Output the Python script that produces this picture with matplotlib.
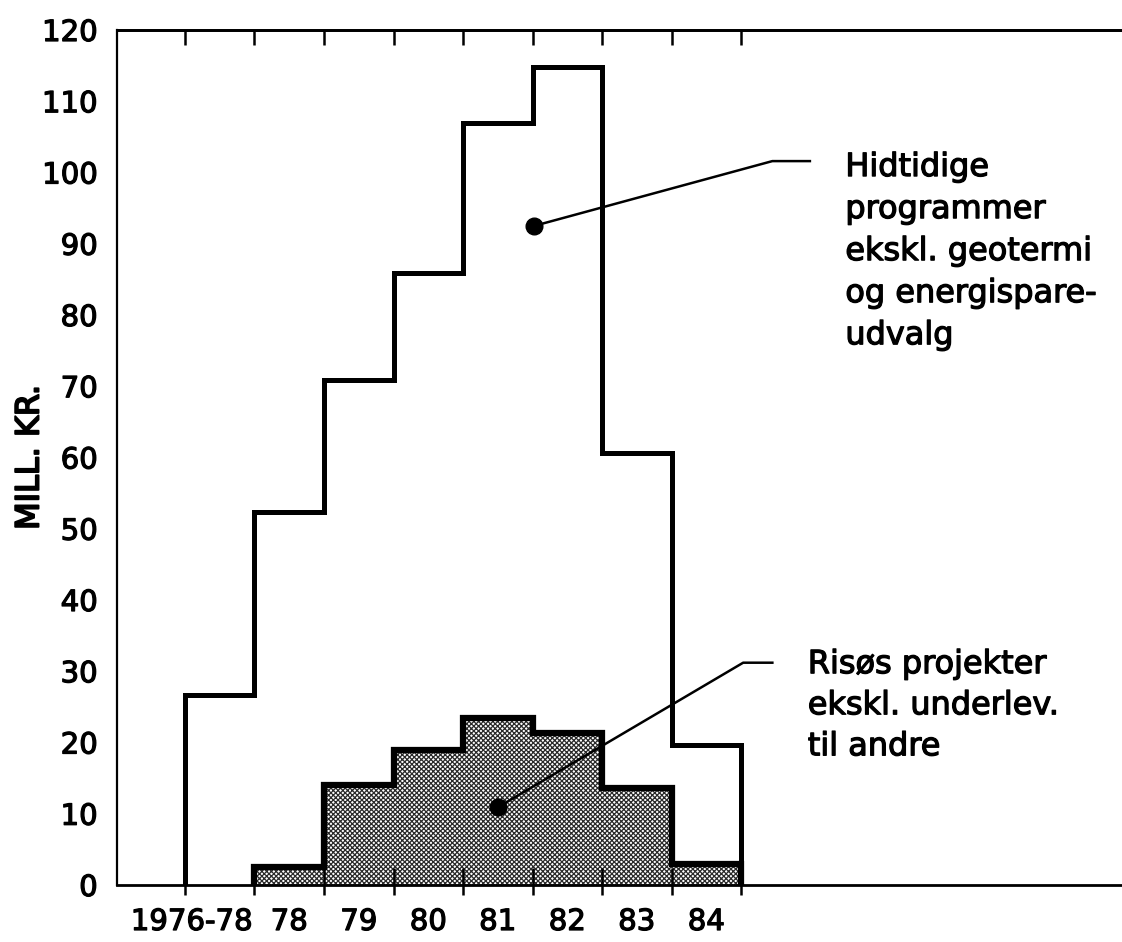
import matplotlib
matplotlib.use('Agg')
import matplotlib.pyplot as plt
import matplotlib.patheffects as pe
import matplotlib.transforms as mtrans
import numpy as np

# ---- data ----
periods = ['1976-78', '78', '79', '80', '81', '82', '83', '84']
hidtidige = [26.7, 52.4, 70.9, 85.9, 106.9, 114.8, 60.6, 19.6]
risoe = [0.0, 2.5, 14.0, 18.9, 23.4, 21.3, 13.6, 3.0]
yticks = list(range(0, 121, 10))
ylabel = 'MILL. KR.'
label_hid = 'Hidtidige\nprogrammer\nekskl. geotermi\nog energispare-\nudvalg'
label_ris = 'Risøs projekter\nekskl. underlev.\ntil andre'

plt.rcParams['font.family'] = ['DejaVu Sans']
plt.rcParams['hatch.linewidth'] = 0.9

W, H = 1122, 942
fig = plt.figure(figsize=(W / 100, H / 100), dpi=100)
ax = fig.add_axes([117 / W, 57 / H, 1 - 117 / W, 855 / H])

edges = np.arange(len(periods) + 1)
bold = [pe.withStroke(linewidth=0.9, foreground='black')]

# hatched Risø area
ax.stairs(risoe, edges, baseline=0, fill=True, facecolor='white',
          edgecolor='#2a2a2a', hatch='xxxxxxx', linewidth=0, zorder=1)
# outlines
ax.stairs(risoe[1:], edges[1:], baseline=0, color='black', linewidth=4.5, zorder=3)
ax.stairs(hidtidige, edges, baseline=0, color='black', linewidth=3.6, zorder=3)

ax.set_xlim(-0.978, 13.48)
ax.set_ylim(0, 120)

# spines
ax.spines['right'].set_visible(False)
ax.spines['left'].set_linewidth(1.6)
ax.spines['bottom'].set_linewidth(2.0)
ax.spines['top'].set_linewidth(2.0)

# x ticks (bottom: in + out)
ax.set_xticks(edges)
ax.set_xticks(edges, minor=True)
ax.xaxis.remove_overlapping_locs = False
ax.tick_params(axis='x', which='major', direction='in', length=12, width=1.8,
               labelbottom=False)
ax.tick_params(axis='x', which='minor', direction='out', length=7, width=1.8,
               labelbottom=False)

sec = ax.secondary_xaxis('top')
sec.set_xticks(edges)
sec.tick_params(direction='in', length=11, width=1.8, labeltop=False)
sec.spines['top'].set_linewidth(2.0)

# x labels at bar centres
trans = mtrans.blended_transform_factory(ax.transData, ax.transAxes)
for i, p in enumerate(periods):
    if i == 0:
        ax.text(edges[1] - 0.03, -37 / 855, p, transform=trans, ha='right',
                va='center', fontsize=21, path_effects=bold)
    else:
        ax.text(i + 0.5, -37 / 855, p, transform=trans, ha='center',
                va='center', fontsize=21, path_effects=bold)

# y ticks
ax.set_yticks(yticks)
ax.set_yticklabels([str(v) for v in yticks], fontsize=21, path_effects=bold)
ax.tick_params(axis='y', length=0, pad=14)
ax.set_ylabel(ylabel, fontsize=23, va='center',
              path_effects=[pe.withStroke(linewidth=1.4, foreground='black')])
ax.yaxis.set_label_coords(-87 / 1005, 0.5)

# annotations
ax.plot([5.02, 8.45, 8.99], [92.5, 101.6, 101.6], color='black', lw=1.8, zorder=4)
ax.plot([5.02], [92.5], 'o', color='black', ms=12, zorder=5)
ax.text(9.5, 75.9, label_hid, ha='left', va='baseline', fontsize=23,
        linespacing=1.46, path_effects=bold)

ax.plot([4.5, 8.03, 8.45], [10.9, 31.2, 31.2], color='black', lw=1.8, zorder=4)
ax.plot([4.5], [10.9], 'o', color='black', ms=12, zorder=5)
ax.text(8.96, 18.2, label_ris, ha='left', va='baseline', fontsize=23,
        linespacing=1.42, path_effects=bold)

fig.savefig('out.png', dpi=100)
